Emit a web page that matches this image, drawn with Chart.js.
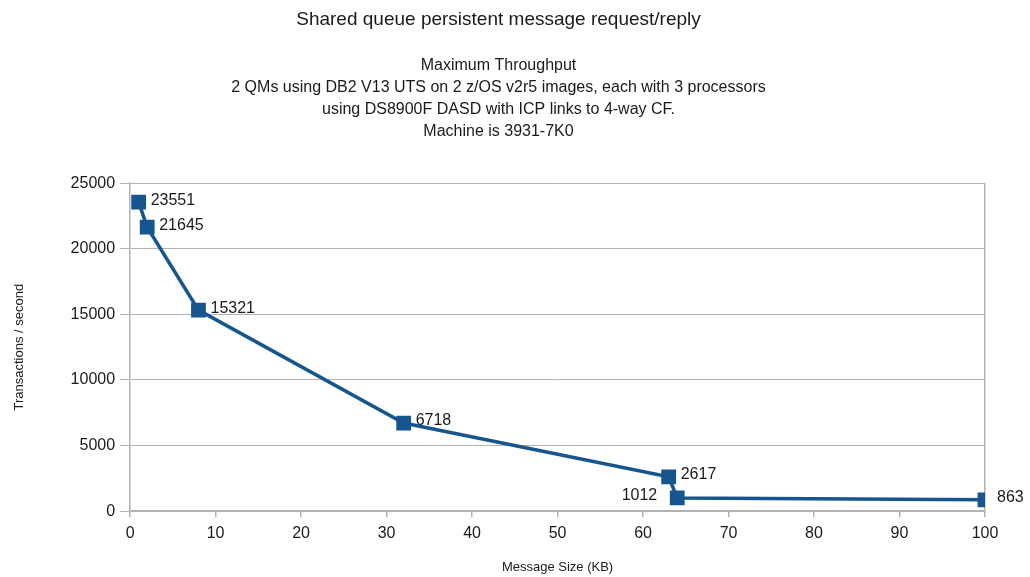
<!DOCTYPE html>
<html>
<head>
<meta charset="utf-8">
<script src="https://cdn.jsdelivr.net/npm/chart.js@4/dist/chart.umd.min.js"></script>
<style>
	html, body { margin: 0; padding: 0; background: #fff; }
	#wrap { width: 1030px; height: 577px; }
</style>
</head>
<body>
<div id="wrap"><canvas id="chart" width="1030" height="577"></canvas></div>
<script>
// Data
const sizesKB = [1, 2, 8, 32, 63, 64, 100];
const throughput = [23551, 21645, 15321, 6718, 2617, 1012, 863];
const labelSide = ['right', 'right', 'right', 'right', 'right', 'left', 'right'];

const titleText = 'Shared queue persistent message request/reply';
const subtitleLines = [
	'Maximum Throughput',
	'2 QMs using DB2 V13 UTS on 2 z/OS v2r5 images, each with 3 processors',
	'using DS8900F DASD with ICP links to 4-way CF.',
	'Machine is 3931-7K0'
];

const FONT = '"Liberation Sans", Arial, sans-serif';
const BLUE = '#17558f';
const GRID = '#b3b3b3';

// Value labels next to each point
const pointLabels = {
	id: 'pointLabels',
	afterDatasetsDraw(chart) {
		const { ctx } = chart;
		const meta = chart.getDatasetMeta(0);
		ctx.save();
		ctx.font = '16px ' + FONT;
		ctx.fillStyle = '#1a1a1a';
		ctx.textBaseline = 'middle';
		meta.data.forEach((pt, i) => {
			const side = labelSide[i];
			ctx.textAlign = side === 'left' ? 'right' : 'left';
			const dx = side === 'left' ? -20 : 12;
			ctx.fillText(String(throughput[i]), pt.x + dx, pt.y - 2);
		});
		ctx.restore();
	}
};

new Chart(document.getElementById('chart'), {
	type: 'line',
	data: {
		datasets: [{
			data: sizesKB.map((x, i) => ({ x, y: throughput[i] })),
			borderColor: BLUE,
			backgroundColor: BLUE,
			borderWidth: 3.5,
			pointStyle: 'rect',
			pointRadius: 8,
			pointHoverRadius: 8,
			tension: 0
		}]
	},
	options: {
		responsive: false,
		animation: false,
		layout: { padding: { left: 12, right: 45, top: 4, bottom: 2 } },
		plugins: {
			legend: { display: false },
			tooltip: { enabled: false },
			title: {
				display: true,
				text: titleText,
				color: '#1a1a1a',
				font: { family: FONT, size: 19, weight: 'normal' },
				padding: { top: 4, bottom: 24 }
			},
			subtitle: {
				display: true,
				text: subtitleLines,
				color: '#1a1a1a',
				font: { family: FONT, size: 16, weight: 'normal', lineHeight: 1.38 },
				padding: { top: 0, bottom: 40 }
			}
		},
		scales: {
			x: {
				type: 'linear',
				min: 0,
				max: 100,
				ticks: { stepSize: 10, color: '#1a1a1a', font: { family: FONT, size: 16 }, padding: 7 },
				grid: {
					color: c => (c.tick && c.tick.value === 100 ? GRID : 'transparent'),
					tickColor: GRID,
					tickLength: 6,
					lineWidth: 1.5
				},
				border: { color: GRID, width: 1.5 },
				title: {
					display: true,
					text: 'Message Size (KB)',
					color: '#1a1a1a',
					font: { family: FONT, size: 13 },
					padding: { top: 9, bottom: 0 }
				}
			},
			y: {
				min: 0,
				max: 25000,
				ticks: {
					stepSize: 5000,
					color: '#1a1a1a',
					font: { family: FONT, size: 16 },
					padding: 5,
					callback: v => String(v)
				},
				grid: { color: GRID, tickColor: GRID, tickLength: 10, lineWidth: 1 },
				border: { color: GRID, width: 1.5 },
				title: {
					display: true,
					text: 'Transactions / second',
					color: '#1a1a1a',
					font: { family: FONT, size: 13 },
					padding: { top: 0, bottom: 38 }
				}
			}
		}
	},
	plugins: [pointLabels]
});
</script>
</body>
</html>
